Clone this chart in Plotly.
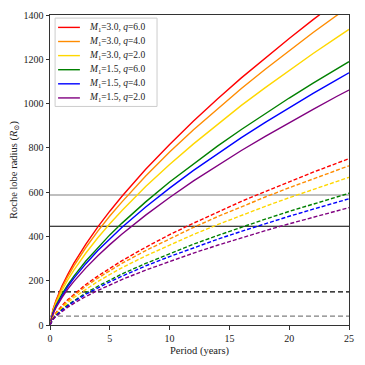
import plotly.graph_objects as go

# period grid (years) and Roche lobe radii (R_sun)
period = [0, 0.25, 0.5, 1, 1.5, 2, 3, 4, 5, 6, 8, 10, 12, 14, 16, 18, 20, 22, 24, 25]

labels = ["<i>M</i><sub>1</sub>=3.0, <i>q</i>=6.0",
          "<i>M</i><sub>1</sub>=3.0, <i>q</i>=4.0",
          "<i>M</i><sub>1</sub>=3.0, <i>q</i>=2.0",
          "<i>M</i><sub>1</sub>=1.5, <i>q</i>=6.0",
          "<i>M</i><sub>1</sub>=1.5, <i>q</i>=4.0",
          "<i>M</i><sub>1</sub>=1.5, <i>q</i>=2.0"]
colors = ["#ff0000", "#ff8c00", "#ffd700", "#008000", "#0000ff", "#800080"]

# solid curves
r_m3_q6 = [0, 70, 111, 176, 230, 279, 365, 443, 514, 580, 703, 815, 921, 1021, 1116, 1207, 1294, 1379, 1462, 1502]
r_m3_q4 = [0, 67, 106, 168, 220, 267, 350, 424, 492, 555, 673, 781, 882, 977, 1068, 1155, 1239, 1321, 1399, 1438]
r_m3_q2 = [0, 62, 98, 156, 205, 248, 325, 394, 457, 516, 625, 725, 818, 907, 992, 1072, 1151, 1226, 1299, 1335]
r_m15_q6 = [0, 55, 88, 139, 182, 221, 289, 350, 407, 459, 556, 646, 729, 808, 883, 955, 1025, 1092, 1157, 1189]
r_m15_q4 = [0, 53, 84, 133, 175, 212, 277, 336, 390, 440, 533, 618, 698, 774, 846, 915, 982, 1046, 1108, 1139]
r_m15_q2 = [0, 49, 78, 124, 163, 197, 258, 313, 363, 410, 496, 576, 651, 721, 788, 852, 914, 974, 1033, 1061]

# dashed curves
d_m3_q6 = [0, 35, 55, 88, 115, 139, 183, 221, 257, 290, 351, 408, 460, 510, 558, 603, 647, 690, 731, 751]
d_m3_q4 = [0, 33, 53, 84, 110, 133, 175, 212, 246, 278, 336, 390, 441, 489, 534, 578, 620, 660, 700, 719]
d_m3_q2 = [0, 31, 49, 78, 102, 124, 162, 197, 228, 258, 312, 362, 409, 453, 495, 536, 575, 613, 649, 667]
d_m15_q6 = [0, 28, 44, 70, 91, 110, 145, 175, 203, 230, 278, 323, 365, 404, 442, 478, 513, 546, 579, 595]
d_m15_q4 = [0, 26, 42, 67, 87, 106, 139, 168, 195, 220, 267, 309, 349, 387, 423, 458, 491, 523, 555, 570]
d_m15_q2 = [0, 25, 39, 62, 81, 98, 129, 156, 181, 205, 248, 288, 325, 360, 394, 426, 457, 487, 516, 530]

solid = [r_m3_q6, r_m3_q4, r_m3_q2, r_m15_q6, r_m15_q4, r_m15_q2]
dashed = [d_m3_q6, d_m3_q4, d_m3_q2, d_m15_q6, d_m15_q4, d_m15_q2]

# horizontal reference levels
hline_levels = [587, 446, 150, 40]
hline_colors = ["#808080", "#000000", "#000000", "#808080"]
hline_dash = ["solid", "solid", "5px,3px", "5px,3px"]

fig = go.Figure()

for i in range(len(solid)):
    fig.add_trace(go.Scatter(x=period, y=solid[i], mode="lines", name=labels[i],
                             line=dict(color=colors[i], width=1.4)))
for i in range(len(dashed)):
    fig.add_trace(go.Scatter(x=period, y=dashed[i], mode="lines", showlegend=False,
                             line=dict(color=colors[i], width=1.4, dash="4px,2px")))

for lvl, c, d in zip(hline_levels, hline_colors, hline_dash):
    fig.add_hline(y=lvl, line=dict(color=c, width=1.2, dash=d), layer="below")

# hand-made legend (plotly rows are too tall for this size)
leg_x0, leg_x1 = 0.017, 0.358
leg_top, leg_bot = 0.990, 0.705
row_h = 0.0455
fig.add_shape(type="rect", xref="paper", yref="paper", x0=leg_x0, x1=leg_x1, y0=leg_bot, y1=leg_top,
              line=dict(color="#cccccc", width=1), fillcolor="rgba(255,255,255,0.85)")
for i in range(len(labels)):
    yy = leg_top - 0.030 - i * row_h
    fig.add_shape(type="line", xref="paper", yref="paper", x0=0.027, x1=0.100, y0=yy, y1=yy,
                  line=dict(color=colors[i], width=1.4))
    fig.add_annotation(xref="paper", yref="paper", x=0.125, y=yy, text=labels[i],
                       showarrow=False, xanchor="left", yanchor="middle",
                       font=dict(size=9.5, color="#222222"))

axis_style = dict(showgrid=False, zeroline=False, showline=True, linecolor="#333333",
                  linewidth=1, mirror=True, ticks="outside", ticklen=3.5,
                  tickcolor="#333333", tickfont=dict(size=10), automargin=False)

# page body adds 8px offset, margins compensate
fig.update_layout(
    width=365, height=365,
    margin=dict(l=42, r=24, t=7, b=48),
    plot_bgcolor="white", paper_bgcolor="white",
    font=dict(family="Liberation Serif, DejaVu Serif, serif", color="#222222", size=10),
    showlegend=False,
)
fig.update_xaxes(range=[0, 25], tickvals=[0, 5, 10, 15, 20, 25],
                 title=dict(text="Period (years)", standoff=4, font=dict(size=10.5)), **axis_style)
fig.update_yaxes(range=[0, 1400], tickvals=list(range(0, 1401, 200)),
                 title=dict(text="Roche lobe radius (<i>R</i><sub>⊙</sub>)", standoff=6, font=dict(size=10.5)),
                 **axis_style)

fig.write_html("out.html")
